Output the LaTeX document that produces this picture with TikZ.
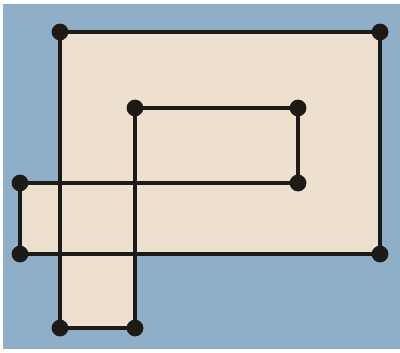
\documentclass[tikz,border=0pt]{standalone}
\usepackage{xcolor}
\usepackage{tikz}
\usetikzlibrary{positioning}

\definecolor{bgblue}{HTML}{8FAFC8}
\definecolor{paper}{HTML}{EDE0CF}
\definecolor{ink}{HTML}{1E1A16}

\begin{document}
\begin{tikzpicture}[
    dot/.style={circle, fill=ink, inner sep=0pt, minimum size=0.42cm},
    edge/.style={draw=ink, line width=2.9pt, line join=round},
    area/.style={fill=paper}
]
% background
\fill[white] (0,0) rectangle (10,8.8);
\fill[bgblue] (0.07,0.07) rectangle (10,8.7);
\useasboundingbox (0,0) rectangle (10,8.8);
% vertices
\coordinate (a) at (0.5, 4.225);
\coordinate (b) at (7.45, 4.225);
\coordinate (c) at (7.45, 6.1);
\coordinate (d) at (3.375, 6.1);
\coordinate (e) at (3.375, 0.6);
\coordinate (f) at (1.5, 0.6);
\coordinate (g) at (1.5, 8.0);
\coordinate (h) at (9.5, 8.0);
\coordinate (i) at (9.5, 2.45);
\coordinate (j) at (0.5, 2.45);
% shaded region
\fill[area] (g) rectangle (i);
\fill[area] (a) rectangle (f |- j);
\fill[area] (f) rectangle (e |- j);
% the closed curve
\draw[edge] (a) -- (b) -- (c) -- (d) -- (e)
    -- (f) -- (g) -- (h) -- (i) -- (j) -- cycle;
\foreach \v in {a,b,c,d,e,f,g,h,i,j}
    \node[dot] (dot-\v) at (\v) {};
\end{tikzpicture}
\end{document}
